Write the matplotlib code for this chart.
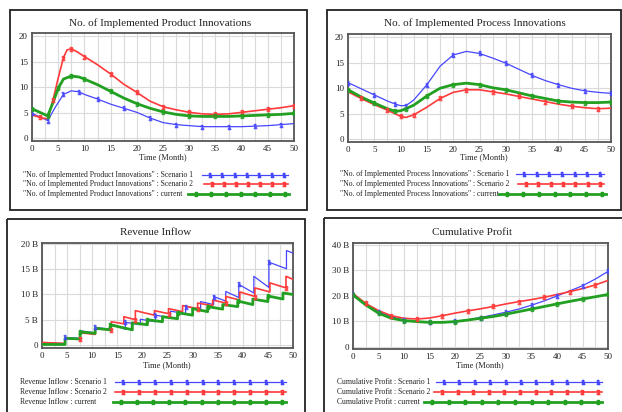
import matplotlib
matplotlib.use("Agg")
import matplotlib.pyplot as plt
import numpy as np

plt.rcParams['font.family'] = ['Liberation Serif', 'DejaVu Serif']

# ---------------- data ----------------
# Panel 1: No. of Implemented Product Innovations
prod_t_s1 = [0, 1.5, 3, 4.5, 6, 7.5, 9, 10, 12.5, 15, 17.5, 20, 22.5, 25, 27.5, 30, 32.5, 35, 37.5, 40, 42.5, 45, 47.5, 50]
prod_s1 = [4.9, 4.2, 3.5, 6.2, 8.6, 9.3, 9.1, 8.6, 7.7, 6.7, 5.9, 5.1, 4.0, 3.1, 2.7, 2.5, 2.3, 2.3, 2.3, 2.3, 2.4, 2.5, 2.7, 2.9]
prod_t_s2 = [0, 1.5, 3, 4, 5, 6, 6.7, 7.5, 8.5, 10, 12.5, 15, 17.5, 20, 22.5, 25, 27.5, 30, 32.5, 35, 37.5, 40, 42.5, 45, 47.5, 50]
prod_s2 = [4.6, 4.1, 3.8, 7.5, 11.8, 15.8, 17.3, 17.5, 17.0, 16.0, 14.4, 12.6, 10.6, 9.0, 7.3, 6.2, 5.6, 5.1, 4.8, 4.7, 4.8, 5.1, 5.4, 5.7, 6.0, 6.4]
prod_t_cur = [0, 1.5, 3, 4, 5, 6, 7.5, 9, 10, 12.5, 15, 17.5, 20, 22.5, 25, 27.5, 30, 32.5, 35, 37.5, 40, 42.5, 45, 47.5, 50]
prod_cur = [5.8, 5.1, 4.4, 7.0, 9.8, 11.6, 12.2, 12.0, 11.6, 10.5, 9.2, 7.9, 6.8, 5.9, 5.2, 4.7, 4.4, 4.3, 4.3, 4.3, 4.4, 4.5, 4.6, 4.7, 4.9]

# Panel 2: No. of Implemented Process Innovations
proc_t = [0, 2.5, 5, 7.5, 9, 10, 11, 12.5, 15, 17.5, 20, 22.5, 25, 27.5, 30, 32.5, 35, 37.5, 40, 42.5, 45, 47.5, 50]
proc_s1 = [11.1, 9.9, 8.7, 7.5, 6.9, 6.6, 6.6, 7.7, 10.7, 14.3, 16.5, 17.2, 16.8, 15.9, 14.9, 13.7, 12.5, 11.5, 10.7, 10.0, 9.5, 9.2, 9.0]
proc_s2 = [9.3, 8.0, 6.8, 5.7, 5.0, 4.5, 4.3, 4.8, 6.3, 8.0, 9.2, 9.7, 9.7, 9.3, 8.9, 8.4, 7.9, 7.4, 6.9, 6.5, 6.2, 6.0, 6.1]
proc_cur = [9.7, 8.3, 7.1, 6.0, 5.5, 5.6, 6.0, 6.7, 8.5, 10.0, 10.7, 11.0, 10.7, 10.1, 9.7, 9.1, 8.5, 8.0, 7.5, 7.3, 7.2, 7.2, 7.3]

# Panel 3: Revenue Inflow (B) -- sawtooth, (time, value) vertices
rev_t_s1 = [0, 4.6, 4.6, 7.6, 7.6, 10.6, 10.6, 13.6, 13.6, 16.6, 16.6, 19.6, 19.6, 22.6, 22.6, 25.6, 25.6, 28.6, 28.6, 31.6, 31.6, 34.2, 34.2, 36.6, 36.6, 39.2, 39.2, 42.2, 42.2, 45.2, 45.2, 48.7, 48.7, 50]
rev_s1 = [0.4, 0.3, 1.5, 1.3, 2.8, 2.4, 3.5, 3.1, 4.2, 3.1, 4.5, 4.0, 5.1, 4.6, 5.9, 5.4, 6.7, 6.2, 7.6, 7.1, 8.6, 8.0, 9.6, 8.7, 10.6, 9.4, 12.0, 10.3, 13.6, 11.4, 16.4, 15.1, 18.7, 18.2]
rev_t_s2 = [0, 4.6, 4.6, 7.6, 7.6, 10.6, 10.6, 13.8, 13.8, 16.3, 16.3, 18.6, 18.6, 22.4, 22.4, 25.2, 25.2, 28.0, 28.0, 31.0, 31.0, 34.0, 34.0, 36.6, 36.6, 39.4, 39.4, 42.4, 42.4, 45.4, 45.4, 48.6, 48.6, 50]
rev_s2 = [0.5, 0.3, 1.3, 1.1, 2.4, 2.1, 3.3, 3.0, 4.6, 4.2, 5.6, 5.0, 6.8, 5.9, 6.8, 6.2, 7.2, 6.6, 7.8, 7.2, 8.3, 7.8, 8.9, 8.3, 9.6, 8.9, 10.5, 9.6, 11.3, 10.5, 12.3, 11.3, 13.6, 13.0]
rev_t_cur = [0, 4.6, 4.6, 7.6, 7.6, 10.6, 10.6, 13.6, 13.6, 18.0, 18.0, 21.0, 21.0, 24.0, 24.0, 27.0, 27.0, 30.0, 30.0, 33.0, 33.0, 36.0, 36.0, 39.0, 39.0, 42.0, 42.0, 45.0, 45.0, 48.0, 48.0, 50]
rev_cur = [0.1, 0.1, 1.3, 1.2, 2.6, 2.3, 3.3, 3.0, 4.0, 3.0, 4.4, 4.0, 5.0, 4.6, 5.6, 5.2, 6.4, 5.9, 7.2, 6.6, 7.6, 7.1, 8.0, 7.6, 8.7, 8.0, 9.1, 8.6, 9.7, 9.1, 10.3, 10.0]

# Panel 4: Cumulative Profit (B)
cum_t = [0, 2.5, 5, 7.5, 10, 12.5, 15, 17.5, 20, 22.5, 25, 27.5, 30, 32.5, 35, 37.5, 40, 42.5, 45, 47.5, 50]
cum_s1 = [20.6, 16.8, 13.8, 11.8, 10.5, 9.9, 9.6, 9.6, 10.0, 10.6, 11.5, 12.5, 13.6, 14.8, 16.3, 18.0, 19.9, 21.9, 23.9, 26.5, 29.5]
cum_s2 = [20.9, 17.0, 14.2, 12.2, 11.2, 10.9, 11.3, 12.2, 13.2, 14.1, 14.9, 15.8, 16.8, 17.7, 18.5, 19.4, 20.5, 21.6, 22.8, 24.2, 26.0]
cum_cur = [20.3, 16.4, 13.2, 11.2, 10.3, 9.9, 9.6, 9.6, 9.9, 10.5, 11.2, 11.9, 12.8, 13.8, 14.8, 15.8, 16.8, 17.8, 18.7, 19.6, 20.5]

titles = ["No. of Implemented Product Innovations", "No. of Implemented Process Innovations",
          "Revenue Inflow", "Cumulative Profit"]
legend_names = ['"No. of Implemented Product Innovations" : ',
                '"No. of Implemented Process Innovations" : ',
                'Revenue Inflow : ', 'Cumulative Profit : ']
scenario_names = ["Scenario 1", "Scenario 2", "current"]

x_ticks = [0, 5, 10, 15, 20, 25, 30, 35, 40, 45, 50]

# ---------------- style ----------------
W, H = 622, 412
C1, C2, C3 = '#4646ff', '#ff3a3a', '#22a022'
colors = [C1, C2, C3]
lws = [0.9, 1.2, 2.0]
markers = ['$1$', '$2$', '$3$']

fig = plt.figure(figsize=(W / 100, H / 100), dpi=100)
ov = fig.add_axes([0, 0, 1, 1], zorder=-1)
ov.set_xlim(0, W)
ov.set_ylim(H, 0)
ov.axis('off')

def px_axes(x0, y0, x1, y1):
    return fig.add_axes([x0 / W, 1 - y1 / H, (x1 - x0) / W, (y1 - y0) / H])

# panel boxes
boxes = [(10, 10, 307, 210), (327, 10, 621, 210), (7, 219, 305, 420), (324, 218, 630, 420)]
for (x0, y0, x1, y1) in boxes:
    ov.add_patch(plt.Rectangle((x0, y0), x1 - x0, y1 - y0, fill=False, ec='#222222', lw=1.3))

axes_px = [(32, 33, 294, 141), (348, 34, 611, 142), (42, 243, 293, 348), (353, 243, 608, 349)]
ylims = [(-0.5, 20.6), (-0.5, 20.6), (-0.6, 20.2), (-0.8, 40.6)]
yticks = [[0, 5, 10, 15, 20], [0, 5, 10, 15, 20], [0, 5, 10, 15, 20], [0, 10, 20, 30, 40]]
ylabs = [["0", "5", "10", "15", "20"], ["0", "5", "10", "15", "20"],
         ["0", "5 B", "10 B", "15 B", "20 B"], ["0", "10 B", "20 B", "30 B", "40 B"]]

series = [
    [(prod_t_s1, prod_s1), (prod_t_s2, prod_s2), (prod_t_cur, prod_cur)],
    [(proc_t, proc_s1), (proc_t, proc_s2), (proc_t, proc_cur)],
    [(rev_t_s1, rev_s1), (rev_t_s2, rev_s2), (rev_t_cur, rev_cur)],
    [(cum_t, cum_s1), (cum_t, cum_s2), (cum_t, cum_cur)],
]

title_pos = [(160, 23), (475, 23), (156, 232), (472, 232)]
xlabel_pos = [(163, 157), (484, 157), (167, 365), (480, 365)]
leg_text_x = [23, 340, 20, 337]
leg_y = [[175, 184, 194], [174, 184, 194], [382, 392, 402], [382, 392, 402]]
leg_line_x = [
    [(202, 288), (204, 288), (188, 289)],
    [(516, 604), (518, 604), (499, 606)],
    [(115, 286), (115, 286), (113, 286)],
    [(436, 602), (434, 602), (424, 602)],
]

for i in range(4):
    ax = px_axes(*axes_px[i])
    ax.set_facecolor('white')
    ax.set_xlim(0, 50)
    ax.set_ylim(*ylims[i])
    ax.set_xticks(x_ticks)
    ax.set_xticks(np.arange(0, 50.01, 2.5), minor=True)
    ax.set_xticklabels([str(v) for v in x_ticks])
    ax.set_yticks(yticks[i])
    ax.set_yticklabels(ylabs[i])
    ax.grid(True, which='both', axis='x', color='#dadada', lw=0.8)
    ax.grid(True, which='major', axis='y', color='#dadada', lw=0.8)
    ax.tick_params(which='both', length=0, labelsize=6.5, colors='#222222', pad=3)
    for s in ax.spines.values():
        s.set_color('#555555')
        s.set_linewidth(1.3)
    for k, (t, v) in enumerate(series[i]):
        ax.plot(t, v, color=colors[k], lw=lws[k], zorder=3.5 if k == 2 else 3)
        if i == 2:
            mt, mv = t[2 + k::4], v[2 + k::4]
        else:
            mt, mv = t[k % 2::2], v[k % 2::2]
        ax.plot(mt, mv, ls='none', marker=markers[k], color=colors[k], ms=3, zorder=4, alpha=0.85)
    tx, ty = title_pos[i]
    ov.text(tx, ty, titles[i], ha='center', va='center', fontsize=8, color='#222222')
    lx, ly = xlabel_pos[i]
    ov.text(lx, ly, "Time (Month)", ha='center', va='center', fontsize=6, color='#222222')
    for k in range(3):
        ov.text(leg_text_x[i], leg_y[i][k], legend_names[i] + scenario_names[k], ha='left', va='center',
                fontsize=5.5, color='#222222')
        xa, xb = leg_line_x[i][k]
        ov.plot([xa, xb], [leg_y[i][k], leg_y[i][k]], color=colors[k], lw=lws[k])
        nm = 7 if i < 2 else 11
        mx = np.linspace(xa + 8, xb - 4, nm)
        ov.plot(mx, [leg_y[i][k]] * nm, ls='none', marker=markers[k], color=colors[k], ms=3)

fig.savefig("out.png", dpi=100)
